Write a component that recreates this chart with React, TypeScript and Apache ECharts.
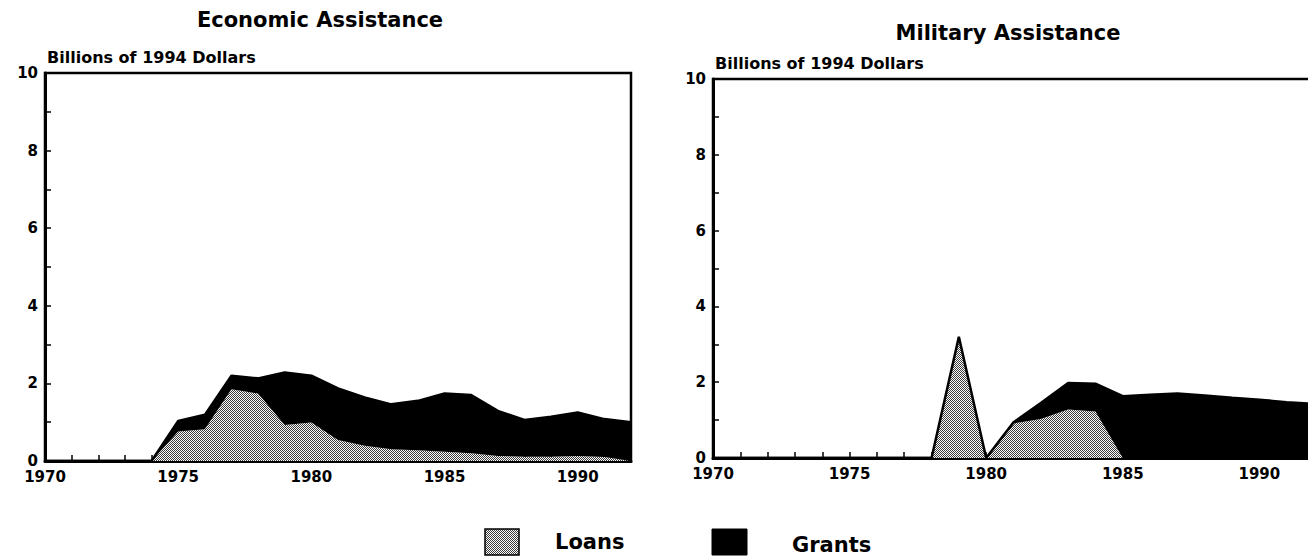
import React, { useEffect, useRef } from "react";
import * as echarts from "echarts";

// ---------- data ----------
const years = [
  "1970", "1971", "1972", "1973", "1974", "1975", "1976", "1977", "1978",
  "1979", "1980", "1981", "1982", "1983", "1984", "1985", "1986", "1987",
  "1988", "1989", "1990", "1991", "1992",
];
const labeledYears = ["1970", "1975", "1980", "1985", "1990"];
const econLoans = [
  0, 0, 0, 0, 0, 0.76, 0.82, 1.85, 1.74, 0.93, 0.99, 0.54, 0.39, 0.3, 0.28,
  0.24, 0.2, 0.13, 0.11, 0.11, 0.13, 0.1, 0,
];
const econGrants = [
  0, 0, 0, 0, 0, 0.27, 0.37, 0.35, 0.39, 1.35, 1.21, 1.33, 1.25, 1.16, 1.27,
  1.5, 1.5, 1.16, 0.95, 1.03, 1.12, 0.98, 1.0,
];
const milLoans = [
  0, 0, 0, 0, 0, 0, 0, 0, 0, 3.2, 0, 0.91, 1.03, 1.28, 1.23, 0, 0, 0, 0, 0, 0,
  0, 0,
];
const milGrants = [
  0, 0, 0, 0, 0, 0, 0, 0, 0, 0, 0, 0.03, 0.42, 0.7, 0.73, 1.63, 1.67, 1.7,
  1.65, 1.59, 1.54, 1.47, 1.43,
];
const titles = ["Economic Assistance", "Military Assistance"];
const unitLabel = "Billions of 1994 Dollars";
const legendNames = ["Loans", "Grants"];

const FONT = "'DejaVu Sans', 'Liberation Sans', Arial, sans-serif";

function makePattern() {
  const c = document.createElement("canvas");
  c.width = 4;
  c.height = 4;
  const ctx = c.getContext("2d")!;
  ctx.fillStyle = "#ffffff";
  ctx.fillRect(0, 0, 4, 4);
  ctx.fillStyle = "#3a3a3a";
  for (let y = 0; y < 4; y++)
    for (let x = 0; x < 4; x++) if ((x + y) % 2 === 0) ctx.fillRect(x, y, 1, 1);
  return { image: c, repeat: "repeat", imageWidth: 4, imageHeight: 4 } as any;
}

export default function App() {
  const ref = useRef<HTMLDivElement>(null);
  useEffect(() => {
    if (!ref.current) return;
    const chart = echarts.init(ref.current, null, { renderer: "svg" });
    const pattern = makePattern();

    const labelStyle = {
      color: "#000",
      fontWeight: "bold" as const,
      fontSize: 15,
      fontFamily: FONT,
    };

    const grids = [
      { left: 45, top: 73, width: 586, height: 388 },
      { left: 713, top: 79, width: 601, height: 379 },
    ];

    const xAxes = grids.map((_, i) => ({
      type: "category",
      gridIndex: i,
      data: years,
      boundaryGap: false,
      axisLine: { show: true, lineStyle: { color: "#000", width: 3 } },
      axisTick: {
        show: true,
        inside: true,
        interval: 0,
        length: 6,
        lineStyle: { color: "#000", width: 1.5 },
      },
      splitLine: { show: false },
      axisLabel: {
        ...labelStyle,
        margin: 9,
        lineHeight: 13,
        interval: 0,
        formatter: (v: string) => (labeledYears.includes(v) ? v : ""),
      },
    }));

    const yAxes = grids.map((_, i) => ({
      type: "value",
      gridIndex: i,
      min: 0,
      max: 10,
      interval: 1,
      name: unitLabel,
      nameLocation: "end",
      nameGap: 8,
      nameTextStyle: {
        ...labelStyle,
        fontSize: 16,
        align: "left",
        verticalAlign: "bottom",
        padding: [0, 0, 0, 2],
      },
      axisLine: { show: true, lineStyle: { color: "#000", width: 3 } },
      axisTick: {
        show: true,
        inside: true,
        length: 6,
        lineStyle: { color: "#000", width: 1.5 },
      },
      splitLine: { show: false },
      axisLabel: {
        ...labelStyle,
        margin: 7,
        lineHeight: 13,
        padding: [0, 0, 3, 0],
        formatter: (v: number) => (v % 2 === 0 ? String(v) : ""),
      },
    }));

    const mk = (
      name: string,
      idx: number,
      stack: string,
      vals: number[],
      isGrant: boolean
    ) => ({
      name,
      type: "line",
      xAxisIndex: idx,
      yAxisIndex: idx,
      stack,
      data: vals,
      symbol: "none",
      silent: true,
      lineStyle: isGrant
        ? { color: "#000", width: 2.5 }
        : { color: "#000", width: 0, opacity: 0 },
      areaStyle: { color: isGrant ? "#000" : pattern, opacity: 1 },
      z: isGrant ? 3 : 2,
    });

    chart.setOption({
      animation: false,
      title: [
        {
          text: titles[0],
          left: 320,
          top: 9,
          padding: 0,
          textAlign: "center",
          textStyle: { ...labelStyle, fontSize: 21 },
        },
        {
          text: titles[1],
          left: 1008,
          top: 22,
          padding: 0,
          textAlign: "center",
          textStyle: { ...labelStyle, fontSize: 21 },
        },
      ],
      grid: grids.map((g) => ({
        ...g,
        show: true,
        outerBoundsMode: "none",
        containLabel: false,
        borderColor: "#000",
        borderWidth: 2.5,
        backgroundColor: "transparent",
      })),
      xAxis: xAxes,
      yAxis: yAxes,
      series: [
        mk(legendNames[0], 0, "econ", econLoans, false),
        mk(legendNames[1], 0, "econ", econGrants, true),
        mk(legendNames[0], 1, "mil", milLoans, false),
        mk(legendNames[1], 1, "mil", milGrants, true),
      ],
      graphic: [
        {
          type: "rect",
          shape: { x: 485, y: 529, width: 34, height: 26 },
          style: { fill: pattern, stroke: "#000", lineWidth: 1.5 },
        },
        {
          type: "text",
          x: 555,
          y: 542,
          style: {
            text: legendNames[0],
            fill: "#000",
            font: `bold 21px ${FONT}`,
            textAlign: "left",
            textVerticalAlign: "middle",
          },
        },
        {
          type: "rect",
          shape: { x: 712, y: 529, width: 35, height: 26 },
          style: { fill: "#000", stroke: "#000", lineWidth: 1 },
        },
        {
          type: "text",
          x: 792,
          y: 545,
          style: {
            text: legendNames[1],
            fill: "#000",
            font: `bold 21px ${FONT}`,
            textAlign: "left",
            textVerticalAlign: "middle",
          },
        },
      ],
    });
    return () => chart.dispose();
  }, []);

  return (
    <div
      ref={ref}
      style={{
        position: "fixed",
        left: 0,
        top: 0,
        width: 1308,
        height: 556,
        background: "#fff",
      }}
    />
  );
}
